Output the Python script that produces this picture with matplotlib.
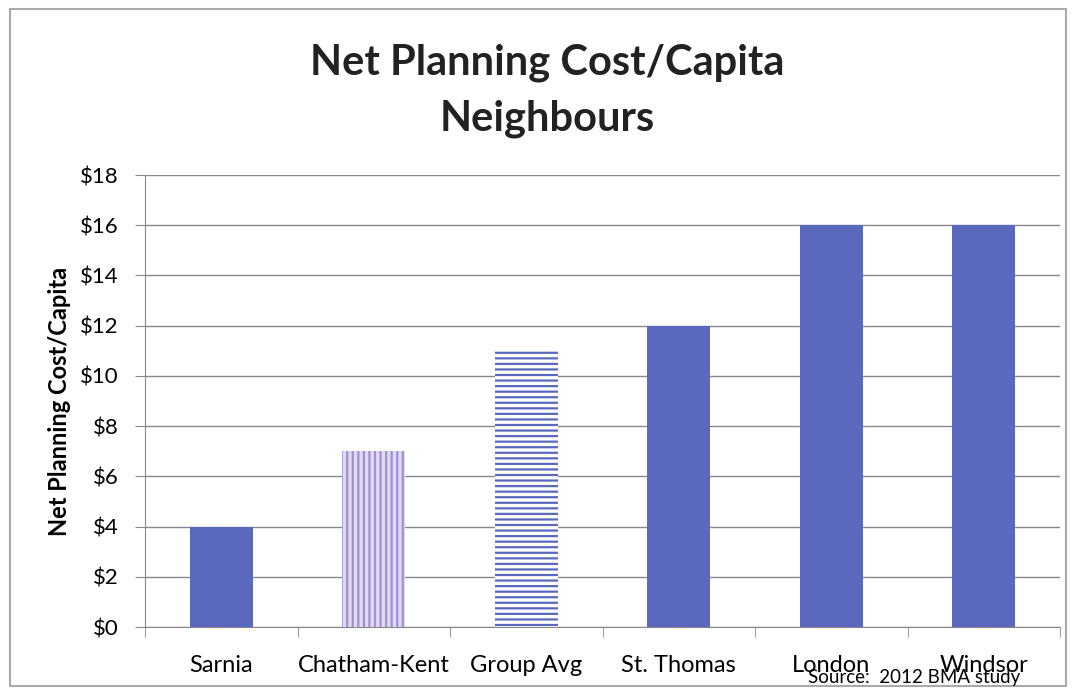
import matplotlib.pyplot as plt
from matplotlib.patches import Rectangle

plt.rcParams['font.family'] = ['Lato', 'DejaVu Sans']
plt.rcParams['hatch.linewidth'] = 1.6

cities = ["Sarnia", "Chatham-Kent", "Group Avg", "St. Thomas", "London", "Windsor"]
cost = [4, 7, 11, 12, 16, 16]
hatches = [None, "|||", "---", None, None, None]
yticks = [0, 2, 4, 6, 8, 10, 12, 14, 16, 18]

blue = "#5a69bd"

fig = plt.figure(figsize=(10.78, 6.90), dpi=100)
ax = fig.add_axes([145 / 1078, 1 - 627 / 690, 915 / 1078, 452 / 690])

x = range(len(cities))
for i, (c, v, h) in enumerate(zip(cities, cost, hatches)):
    if h is None:
        ax.bar(i, v, width=0.41, color=blue, zorder=3)
    elif h == "|||":
        plt.rcParams['hatch.color'] = "#8f96dc"
        ax.bar(i, v, width=0.41, color="#ecd6ea", hatch=h, edgecolor="#8f96dc",
               linewidth=0, zorder=3)
    else:
        plt.rcParams['hatch.color'] = blue
        ax.bar(i, v, width=0.41, color="white", hatch=h, edgecolor=blue,
               linewidth=0, zorder=3)

ax.set_xlim(-0.5, len(cities) - 0.5)
ax.set_ylim(0, 18)
ax.set_yticks(yticks)
ax.set_yticklabels(["$%d" % t for t in yticks], fontsize=16)
ax.set_xticks(list(x))
ax.set_xticklabels(cities, fontsize=17)
ax.set_xticks([i - 0.5 for i in range(len(cities) + 1)], minor=True)
ax.tick_params(axis='x', which='major', length=0, pad=20)
ax.tick_params(axis='x', which='minor', length=7, color="#888888")
ax.tick_params(axis='y', length=7, color="#888888", pad=12)
ax.grid(axis='y', color="#888888", linewidth=1, zorder=0)
for s in ["top", "right"]:
    ax.spines[s].set_visible(False)
ax.spines["left"].set_color("#888888")
ax.spines["bottom"].set_color("#888888")
ax.set_ylabel("Net Planning Cost/Capita", fontsize=17, fontweight="bold")
ax.yaxis.set_label_coords(-0.081, 0.5)

fig.text(0.508, 0.80, "Net Planning Cost/Capita\nNeighbours", ha="center", va="bottom",
         fontsize=30, fontweight="bold", color="#222222", linespacing=1.55)
fig.text(0.848, 0.01, "Source:  2012 BMA study", ha="center", fontsize=13.5)

fig.patches.append(Rectangle((10 / 1078, 4 / 690), 1056 / 1078, 677 / 690,
                             transform=fig.transFigure, fill=False,
                             edgecolor="#aaaaaa", linewidth=1.5))

fig.savefig("out.png", dpi=100)
